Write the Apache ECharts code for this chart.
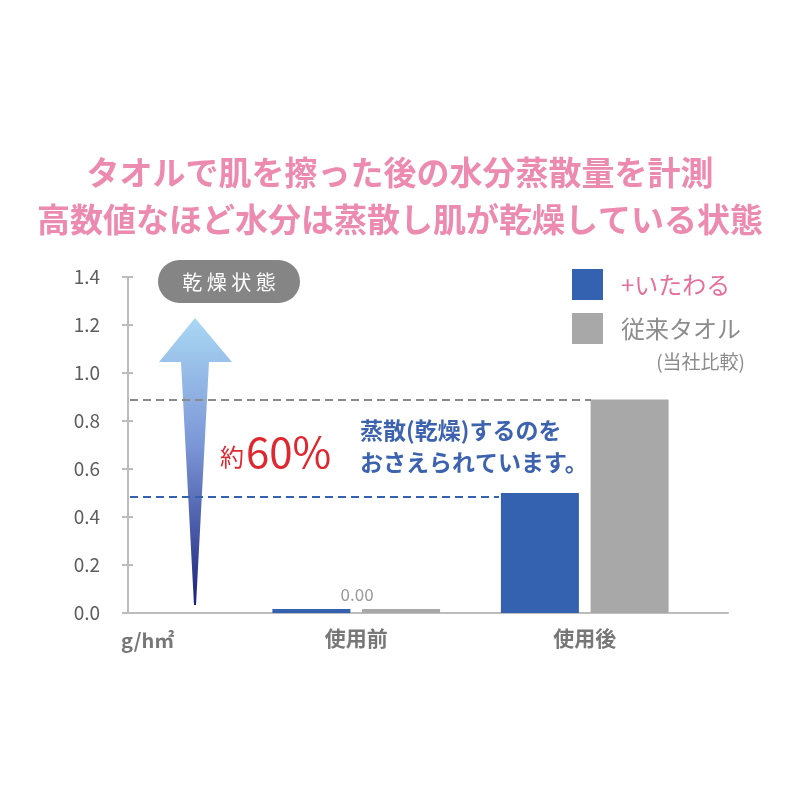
<!DOCTYPE html>
<html>
<head>
<meta charset="utf-8">
<script src="https://cdn.jsdelivr.net/npm/echarts@6/dist/echarts.min.js"></script>
<style>
  html, body { margin: 0; padding: 0; background: #fff; }
  #chart { width: 800px; height: 800px; }
</style>
</head>
<body>
<div id="chart"></div>
<script>
// data
var categories = ['使用前', '使用後'];
var itawaruValues = [0, 0.50];
var towelValues = [0, 0.89];
var refLines = [0.89, 0.485];
var yTicks = { min: 0, max: 1.4, interval: 0.2 };
var seriesNames = ['+いたわる', '従来タオル'];

var FONT = '"Noto Sans CJK JP", "Noto Sans", sans-serif';
var BLUE = '#3462b0';
var GRAY = '#a8a8a8';
var PINK = '#ec8ab0';
var AXIS = '#bdbdbd';

var chart = echarts.init(document.getElementById('chart'));

var gridTop = 277, gridBottom = 187;

chart.setOption({
  animation: false,
  textStyle: { fontFamily: FONT },
  title: {
    text: 'タオルで肌を擦った後の水分蒸散量を計測\n高数値なほど水分は蒸散し肌が乾燥している状態',
    left: 'center',
    top: 144,
    textStyle: { color: PINK, fontSize: 33, fontWeight: 'bold', lineHeight: 47, fontFamily: FONT }
  },
  legend: {
    orient: 'vertical',
    left: 567,
    top: 264,
    itemWidth: 31,
    itemHeight: 31,
    itemGap: 13,
    icon: 'rect',
    selectedMode: false,
    textStyle: { fontSize: 24, fontFamily: FONT, padding: [0, 0, 0, 13] },
    data: [
      { name: seriesNames[0], textStyle: { color: '#e56f9c' } },
      { name: seriesNames[1], textStyle: { color: '#8c8c8c' } }
    ]
  },
  grid: [
    { left: 128, right: 72, top: gridTop, bottom: gridBottom },
    { left: 242, right: 101, top: gridTop, bottom: gridBottom }
  ],
  xAxis: [
    {
      gridIndex: 0, type: 'category', data: [''],
      axisLine: { lineStyle: { color: AXIS, width: 2 } },
      axisTick: { show: false }, axisLabel: { show: false }
    },
    {
      gridIndex: 1, type: 'category', data: categories,
      axisLine: { show: false }, axisTick: { show: false },
      axisLabel: { color: '#777', fontSize: 21, fontWeight: 'bold', margin: 15, fontFamily: FONT }
    }
  ],
  yAxis: [
    {
      gridIndex: 0, type: 'value', position: 'left',
      min: yTicks.min, max: yTicks.max, interval: yTicks.interval,
      axisLine: { show: true, lineStyle: { color: AXIS, width: 2 } },
      axisTick: { show: true, length: 6, lineStyle: { color: AXIS, width: 2 } },
      splitLine: { show: false },
      axisLabel: {
        color: '#5e5e5e', fontSize: 19, margin: 28, fontFamily: FONT,
        formatter: function (v) { return v.toFixed(1); }
      }
    },
    {
      gridIndex: 0, type: 'value', position: 'left',
      min: yTicks.min, max: yTicks.max, interval: yTicks.interval,
      axisLine: { show: false },
      axisTick: { show: true, inside: true, length: 5, lineStyle: { color: AXIS, width: 2 } },
      splitLine: { show: false }, axisLabel: { show: false }
    },
    {
      gridIndex: 1, type: 'value', min: yTicks.min, max: yTicks.max, interval: yTicks.interval,
      show: false
    }
  ],
  series: [
    {
      // holder for the dashed guide lines, lives in the full-width grid
      type: 'line', xAxisIndex: 0, yAxisIndex: 0, data: [null], clip: false,
      silent: true, symbol: 'none',
      markLine: {
        silent: true, symbol: ['none', 'none'], label: { show: false },
        animation: false,
        data: [
          [
            { yAxis: refLines[0], x: 130, lineStyle: { color: '#8a8a8a', width: 2, type: [8, 5] } },
            { yAxis: refLines[0], x: 591 }
          ],
          [
            { yAxis: refLines[1], x: 130, lineStyle: { color: BLUE, width: 2, type: [8, 5] } },
            { yAxis: refLines[1], x: 499 }
          ]
        ]
      }
    },
    {
      name: seriesNames[0], type: 'bar', xAxisIndex: 1, yAxisIndex: 2,
      data: itawaruValues, barWidth: 78, barGap: '15%', barMinHeight: 4,
      itemStyle: { color: BLUE }
    },
    {
      name: seriesNames[1], type: 'bar', xAxisIndex: 1, yAxisIndex: 2,
      data: towelValues.map(function (v, i) {
        return i === 0
          ? { value: v, label: { show: true } }
          : { value: v };
      }),
      barWidth: 78, barMinHeight: 4,
      itemStyle: { color: GRAY },
      label: {
        show: false, position: 'top', distance: 6, offset: [-44, 0],
        color: '#9a9a9a', fontSize: 17, fontFamily: FONT,
        formatter: function (p) { return p.value.toFixed(2); }
      }
    }
  ],
  graphic: [
    {
      // gradient arrow
      type: 'polygon',
      shape: { points: [[195, 318], [232, 362], [209, 362], [196, 605], [194, 605], [181, 362], [159, 362]] },
      style: {
        fill: new echarts.graphic.LinearGradient(0, 0, 0, 1, [
          { offset: 0, color: '#aad8f4' },
          { offset: 0.45, color: '#7b95d6' },
          { offset: 1, color: '#1a237a' }
        ])
      }
    },
    {
      type: 'rect',
      shape: { x: 158, y: 260, width: 142, height: 43, r: 21.5 },
      style: { fill: '#858585' }
    },
    {
      type: 'text', x: 229, y: 282,
      style: { text: '乾 燥 状 態', fill: '#fff', fontSize: 20, fontFamily: FONT, align: 'center', verticalAlign: 'middle' }
    },
    {
      type: 'text', x: 220, y: 452,
      style: {
        text: '{a|約}{b|60%}', verticalAlign: 'middle', fontFamily: FONT,
        rich: {
          a: { fontSize: 24, fill: '#e0262f', fontFamily: FONT, padding: [10, 2, 0, 0] },
          b: { fontSize: 42, fill: '#e0262f', fontFamily: FONT }
        }
      }
    },
    {
      type: 'text', x: 360, y: 446,
      style: {
        text: '蒸散(乾燥)するのを\nおさえられています。',
        fill: '#3d63b0', fontSize: 23, fontWeight: 'bold', lineHeight: 32,
        fontFamily: FONT, verticalAlign: 'middle'
      }
    },
    {
      type: 'text', x: 745, y: 362,
      style: { text: '(当社比較)', fill: '#8c8c8c', fontSize: 19, fontFamily: FONT, align: 'right', verticalAlign: 'middle' }
    },
    {
      type: 'text', x: 121, y: 640,
      style: { text: 'g/h㎡', fill: '#777', fontSize: 20, fontWeight: 'bold', fontFamily: FONT, verticalAlign: 'middle' }
    }
  ]
});
</script>
</body>
</html>
